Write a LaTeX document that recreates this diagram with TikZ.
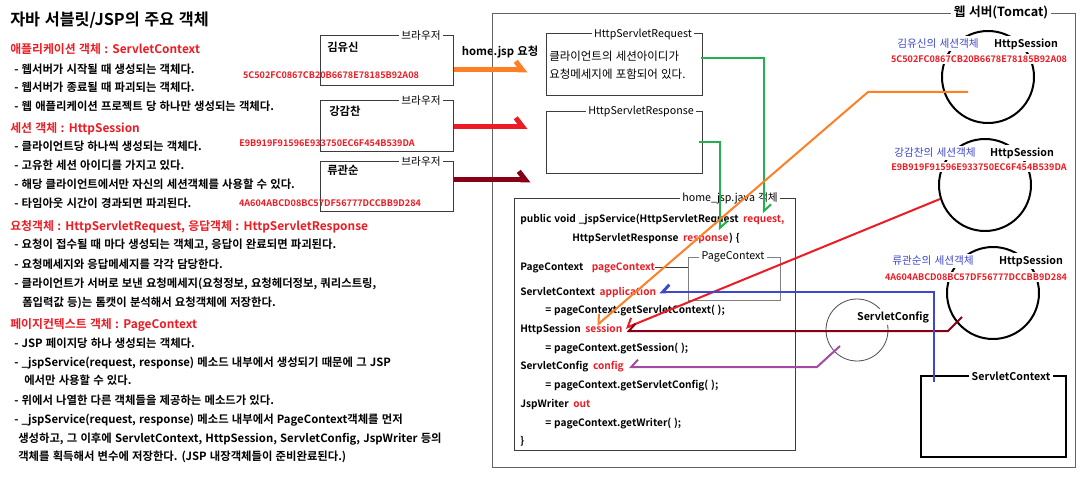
\documentclass[tikz,border=0pt]{standalone}
\usepackage{fontspec}
\setmainfont{Noto Sans CJK KR}[BoldFont={Noto Sans CJK KR Bold}, WordSpace=1.25]
\usetikzlibrary{arrows.meta,positioning,fit,calc}

\definecolor{mred}{HTML}{ED1C24}
\definecolor{morange}{HTML}{FF7F27}
\definecolor{mmaroon}{HTML}{880015}
\definecolor{mgreen}{HTML}{22B14C}
\definecolor{mblue}{HTML}{3F48CC}
\definecolor{mpurple}{HTML}{A349A4}
\definecolor{frameg}{HTML}{3C3C3C}

\tikzset{
  frame/.style={draw=frameg, line width=0.75pt, inner sep=0pt},
  tag/.style={fill=white, inner xsep=2pt, inner ysep=0pt, font=\fontsize{8}{9}\selectfont},
  txt/.style={anchor=west, inner sep=0pt, text height=6.8pt, text depth=1.4pt, font=\bfseries\fontsize{8.5}{10}\selectfont},
  head/.style={txt, text=mred, font=\bfseries\fontsize{8.9}{10}\selectfont},
  code/.style={txt, font=\bfseries\fontsize{7.6}{10}\selectfont},
  codeR/.style={code, text=mred},
  sid/.style={text=mred, inner sep=1pt, font=\bfseries\fontsize{6.8}{8}\selectfont},
  hook/.style={line width=3.75pt, -{Straight Barb[left,length=5pt,width=13pt]}},
  link/.style={line width=1.5pt},
  tipL/.style={-{Straight Barb[left,length=5pt,width=11pt]}},
  tipR/.style={-{Straight Barb[right,length=5pt,width=11pt]}},
}

\begin{document}
\begin{tikzpicture}[x=0.75pt,y=-0.75pt]
    \useasboundingbox (0,0) rectangle (1082,481);
    \fill[white] (0,0) rectangle (1082,481);

    % Title and headings
    \node[txt, font=\bfseries\fontsize{12.2}{14}\selectfont] (title) at (10,22) {자바 서블릿/JSP의 주요 객체};
    \node[head] (hApp) at (10,50) {애플리케이션 객체 : ServletContext};
    \node[head] (hSes) at (10,129) {세션 객체 : HttpSession};
    \node[head] (hReq) at (10,227) {요청객체 : HttpServletRequest, 응답객체 : HttpServletResponse};
    \node[head] (hPage) at (10,325) {페이지컨텍스트 객체 : PageContext};

    % Bullet lines
    \foreach \x/\y/\t [count=\i] in {
        14/70/{- 웹서버가 시작될 때 생성되는 객체다.},
        14/88/{- 웹서버가 종료될 때 파괴되는 객체다.},
        14/107/{- 웹 애플리케이션 프로젝트 당 하나만 생성되는 객체다.},
        14/147/{- 클라이언트당 하나씩 생성되는 객체다.},
        14/166/{- 고유한 세션 아이디를 가지고 있다.},
        14/185/{- 해당 클라이언트에서만 자신의 세션객체를 사용할 수 있다.},
        14/204/{- 타임아웃 시간이 경과되면 파괴된다.},
        14/245/{- 요청이 접수될 때 마다 생성되는 객체고, 응답이 완료되면 파괴된다.},
        14/265/{- 요청메세지와 응답메세지를 각각 담당한다.},
        14/284/{- 클라이언트가 서버로 보낸 요청메세지(요청정보, 요청헤더정보, 쿼리스트링,},
        22/303/{폼입력값 등)는 톰캣이 분석해서 요청객체에 저장한다.},
        14/344/{- JSP 페이지당 하나 생성되는 객체다.},
        14/363/{- \_jspService(request, response) 메소드 내부에서 생성되기 때문에 그 JSP},
        24/381/{에서만 사용할 수 있다.},
        14/401/{- 위에서 나열한 다른 객체들을 제공하는 메소드가 있다.},
        14/420/{- \_jspService(request, response) 메소드 내부에서 PageContext객체를 먼저},
        18/439/{생성하고, 그 이후에 ServletContext, HttpSession, ServletConfig, JspWriter 등의},
        18/457/{객체를 획득해서 변수에 저장한다. (JSP 내장객체들이 준비완료된다.)}}
        \node[txt] (line\i) at (\x,\y) {\t};

    % Browsers
    \node[frame, fit={(320,36) (453,86)}] (kim) {};
    \node[tag] (kimTag) at (421,36) {브라우저};
    \node[txt] (kimName) at (327,48) {김유신};
    \node[sid] (kimId) at (331,75) {5C502FC0867CB20B6678E78185B92A08};

    \node[frame, fit={(320,101) (453,152)}] (gang) {};
    \node[tag] (gangTag) at (421,101) {브라우저};
    \node[txt] (gangName) at (329,112) {강감찬};
    \node[sid] (gangId) at (327,143) {E9B919F91596E933750EC6F454B539DA};

    \node[frame, fit={(320,162) (453,212)}] (ryu) {};
    \node[tag] (ryuTag) at (421,162) {브라우저};
    \node[txt] (ryuName) at (327,171) {류관순};
    \node[sid] (ryuId) at (330,203) {4A604ABCD08BC57DF56777DCCBB9D284};

    \node[txt, anchor=center] (jspReq) at (500,52) {home.jsp 요청};

    % Web server
    \node[frame, draw=frameg!80, fit={(492,14) (1075,467)}] (was) {};
    \node[tag, font=\bfseries\fontsize{9.5}{11}\selectfont] (wasTag) at (1001,12) {웹 서버(Tomcat)};

    \node[frame, fit={(546,34) (702,96)}] (req) {};
    \node[tag] (reqTag) at (643,34) {HttpServletRequest};
    \node[txt, font=\fontsize{8.6}{9}\selectfont] (reqNote1) at (549,57) {클라이언트의 세션아이디가};
    \node[txt, font=\fontsize{8.6}{9}\selectfont] (reqNote2) at (549,75) {요청메세지에 포함되어 있다.};

    \node[frame, fit={(546,112) (702,174)}] (resp) {};
    \node[tag] (respTag) at (641,111) {HttpServletResponse};

    % home_jsp.java
    \node[frame, fit={(514,199) (795,450)}] (java) {};
    \node[tag] (javaTag) at (730,198) {home\_jsp.java 객체};

    \node[code] (c1) at (520,219) {public void \_jspService(HttpServletRequest};
    \node[codeR, right=3pt of c1] (reqVar) {request,};
    \node[code] (c2) at (572,238) {HttpServletResponse};
    \node[codeR, right=3pt of c2] (respVar) {response};
    \node[code, right=0pt of respVar] (c2end) {) \{};
    \node[code] (c3) at (520,267) {PageContext};
    \node[codeR, right=6pt of c3] (pcVar) {pageContext};
    \node[code] (c4) at (520,292) {ServletContext};
    \node[codeR, right=3pt of c4] (appVar) {application};
    \node[code] (c5) at (545,310) {= pageContext.getServletContext( );};
    \node[code] (c6) at (520,329) {HttpSession};
    \node[codeR, right=3pt of c6] (sessVar) {session};
    \node[code] (c7) at (545,348) {= pageContext.getSession( );};
    \node[code] (c8) at (520,366) {ServletConfig};
    \node[codeR, right=3pt of c8] (cfgVar) {config};
    \node[code] (c9) at (545,385) {= pageContext.getServletConfig( );};
    \node[code] (c10) at (520,404) {JspWriter};
    \node[codeR, right=3pt of c10] (outVar) {out};
    \node[code] (c11) at (545,423) {= pageContext.getWriter( );};
    \node[code] (c12) at (520,441) {\}};

    \node[frame, draw=gray, fit={(688,257) (780,300)}] (pcBox) {};
    \node[tag] (pcTag) at (733,257) {PageContext};
    \draw[frameg, line width=0.75pt] (pcVar.east) -- (pcVar -| pcBox.west);

    % Session objects
    \foreach \s/\cx/\cy in {s1/988/77, s2/985/185, s3/993/293}
        \node[circle, draw, line width=1.5pt, minimum size=69pt, inner sep=0pt] (\s) at (\cx,\cy) {};
    \node[tag, text=mblue, inner ysep=2pt] (s1Name) at (938,44) {김유신의 세션객체};
    \node[tag, font=\bfseries\fontsize{8}{9}\selectfont, inner ysep=2pt] (s1Type) at (1026,44) {HttpSession};
    \node[sid, fill=white] (s1Id) at (979,59) {5C502FC0867CB20B6678E78185B92A08};
    \node[tag, text=mblue, inner ysep=2pt] (s2Name) at (935,153) {강감찬의 세션객체};
    \node[tag, font=\bfseries\fontsize{8}{9}\selectfont, inner ysep=2pt] (s2Type) at (1022,153) {HttpSession};
    \node[sid, fill=white] (s2Id) at (979,167) {E9B919F91596E933750EC6F454B539DA};
    \node[tag, text=mblue, inner ysep=2pt] (s3Name) at (933,261) {류관순의 세션객체};
    \node[tag, font=\bfseries\fontsize{8}{9}\selectfont, inner ysep=2pt] (s3Type) at (1031,261) {HttpSession};
    \node[sid, fill=white] (s3Id) at (976,277) {4A604ABCD08BC57DF56777DCCBB9D284};

    % ServletConfig and ServletContext
    \node[circle, draw=gray!60!black, line width=0.6pt, minimum size=46.5pt, inner sep=0pt] (cfg) at (857,330) {};
    \node[tag, font=\bfseries\fontsize{8}{9}\selectfont, inner ysep=2pt] (cfgTag) at (893,317) {ServletConfig};
    \draw[frameg, line width=0.75pt] (cfg.west -| java.east) -- (cfg.west);

    \node[draw, line width=1.5pt, inner sep=0pt, fit={(921,376) (1066,457)}] (ctx) {};
    \node[tag, font=\bfseries\fontsize{8}{9}\selectfont] (ctxTag) at (1011,376) {ServletContext};

    % Requests from browsers
    \draw[hook, morange] ($(kim.east)+(0,9)$) -- ++(74,0);
    \draw[hook, mred] (gang.east) -- ++(74,0);
    \draw[hook, mmaroon] ($(ryu.east)+(0,-7)$) -- ++(77,0);

    % Request and response into _jspService
    \draw[link, mgreen, tipL] ($(req.east)+(-2,-7)$) -| (reqVar.north);
    \draw[link, mgreen, tipL] ($(resp.east)+(-4,-1)$) -| ($(respVar.north east)+(-9,-2)$);

    % Objects into the variables
    \draw[link, morange, tipR] ($(s1)+(-20,15)$) -- ++(-100,0) -- ($(sessVar.north)+(-7,2)$);
    \draw[link, mred, tipR] ($(s2)+(-45,14)$) -- ($(sessVar.east)+(3,-1)$);
    \draw[link, mmaroon, tipR] ($(s3)+(-31,24)$) -- ++(-14,14) -- ($(sessVar.east)+(4,2)$);
    \draw[line width=2.2pt, mblue, tipR] ($(ctx.north west)+(14,7)$) |- ($(appVar.east)+(3,0)$);
    \draw[link, mpurple, tipR] ($(cfg)+(-17,16)$) -- ++(-23,21) -- ($(cfgVar.east)+(5,1)$);
\end{tikzpicture}
\end{document}
